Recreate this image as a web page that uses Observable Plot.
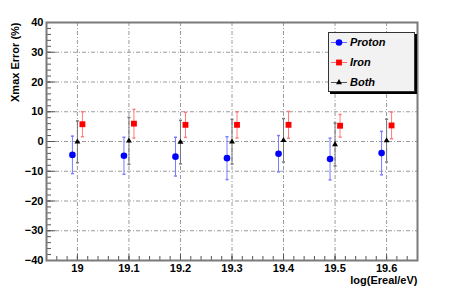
<!DOCTYPE html>
<html><head><meta charset="utf-8">
<script src="https://cdn.jsdelivr.net/npm/d3@7"></script>
<script src="https://cdn.jsdelivr.net/npm/@observablehq/plot@0.6"></script>
<style>
body{margin:0;background:#fff;}
#chart{position:relative;width:463px;height:299px;background:#fff;}
#legend{position:absolute;left:328px;top:32px;width:85px;height:58px;background:#f2f2f2;border:1px solid #333;box-shadow:2px 2px 0 #000;font-family:"Liberation Sans",Arial,sans-serif;}
#legend svg{position:absolute;left:0;top:0;}
</style></head><body><div id="chart"><div id="legend"></div></div>
<script>
const energies = [19.0, 19.1, 19.2, 19.3, 19.4, 19.5, 19.6];
const protonMean = [-4.5, -4.8, -5.1, -5.6, -4.1, -5.9, -3.9];
const protonErr  = [6.3, 6.2, 6.5, 7.2, 6.1, 7.0, 7.3];
const ironMean   = [5.8, 6.0, 5.6, 5.6, 5.6, 5.3, 5.4];
const ironErr    = [4.2, 4.8, 4.2, 4.4, 4.5, 3.8, 4.5];
const bothMean   = [-0.1, 0.2, -0.2, -0.1, 0.4, -1.0, 0.3];
const bothErr    = [7.0, 7.9, 7.3, 7.5, 7.3, 7.2, 7.2];
const xTicks = [19.0, 19.1, 19.2, 19.3, 19.4, 19.5, 19.6];
const yTicks = [-40, -30, -20, -10, 0, 10, 20, 30, 40];
const xMinor = d3.range(947, 984).map(i => i / 50);
const yMinor = d3.range(-20, 21).map(i => i * 2);
const seriesNames = ["Proton", "Iron", "Both"];

const W = 463, H = 299, mL = 46, mR = 46, mT = 22, mB = 39;
const pW = W - mL - mR, pH = H - mT - mB;

const rows = (mean, err) => energies.map((e, i) => ({e, m: mean[i], lo: mean[i] - err[i], hi: mean[i] + err[i]}));
const proton = rows(protonMean, protonErr);
const iron = rows(ironMean, ironErr);
const both = rows(bothMean, bothErr);

const cap = {draw(ctx) { ctx.moveTo(-1.5, 0); ctx.lineTo(1.5, 0); }};

function series(data, dx, color, barColor, symbol, r) {
  return [
    Plot.ruleX(data, {x: "e", y1: "lo", y2: "hi", dx, stroke: barColor, strokeWidth: 1}),
    Plot.dot(data, {x: "e", y: "lo", dx, symbol: cap, stroke: barColor, fill: "none"}),
    Plot.dot(data, {x: "e", y: "hi", dx, symbol: cap, stroke: barColor, fill: "none"}),
    Plot.dot(data, {x: "e", y: "m", dx, symbol, r, fill: color, stroke: "none"})
  ];
}

const gridStyle = {stroke: "#9a9a9a", strokeOpacity: 1, strokeWidth: 1, strokeDasharray: "4,2,1,2"};

const plot = Plot.plot({
  width: W, height: H,
  marginLeft: mL, marginRight: mR, marginTop: mT, marginBottom: mB,
  style: {fontFamily: "Liberation Sans, Arial, sans-serif", fontSize: "11px", background: "white", color: "black"},
  x: {domain: [18.94, 19.66]},
  y: {domain: [-40, 40]},
  marks: [
    Plot.gridX(xTicks, gridStyle),
    Plot.gridY(yTicks, gridStyle),
    Plot.tickX(xMinor, {x: d => d, insetTop: pH - 4, stroke: "#555"}),
    Plot.tickX(xTicks, {x: d => d, insetTop: pH - 6, stroke: "#555"}),
    Plot.tickY(yMinor, {y: d => d, insetRight: pW - 5, stroke: "#555"}),
    Plot.tickY(yTicks, {y: d => d, insetRight: pW - 9, stroke: "#555"}),
    Plot.axisX(xTicks, {tickSize: 0, tickPadding: 4, tickFormat: d3.format("~g"), fontWeight: "bold", label: null}),
    Plot.axisY(yTicks, {tickSize: 0, tickPadding: 3, tickFormat: d3.format("~g"), fontWeight: "bold", label: null}),
    ...series(proton, -5, "#0000ff", "#7a7aff", "circle", 3.3),
    ...series(iron, 5, "#ff0000", "#ff7a7a", "square", 3.3),
    ...series(both, 0, "#000000", "#777777", "triangle", 2.2),
    Plot.frame({stroke: "#7a7a7a", strokeWidth: 2}),
    Plot.text(["Xmax Error (%)"], {text: d => d, frameAnchor: "top-left", dx: -31, rotate: -90, textAnchor: "end", lineAnchor: "middle", fontWeight: "bold", fontSize: 11}),
    Plot.text(["log(Ereal/eV)"], {text: d => d, frameAnchor: "bottom-right", dy: 20, textAnchor: "end", lineAnchor: "middle", fontWeight: "bold", fontSize: 11})
  ]
});
document.getElementById("chart").prepend(plot);

// legend
const legendColors = ["#0000ff", "#ff0000", "#000000"];
const legendLine = ["#6a6aff", "#ff6a6a", "#555"];
const legendSymbols = [d3.symbolCircle, d3.symbolSquare, d3.symbolTriangle];
const legendSizes = [34, 34, 15];
const lsvg = d3.select("#legend").append("svg").attr("width", 85).attr("height", 58);
seriesNames.forEach((name, i) => {
  const y = 9.5 + i * 20;
  lsvg.append("line").attr("x1", 2).attr("x2", 18).attr("y1", y).attr("y2", y).attr("stroke", legendLine[i]);
  lsvg.append("path").attr("d", d3.symbol(legendSymbols[i], legendSizes[i])()).attr("transform", `translate(10,${y})`).attr("fill", legendColors[i]);
  lsvg.append("text").attr("x", 21).attr("y", y).attr("dy", "0.36em").attr("font-size", 11).attr("font-weight", "bold").attr("font-style", "italic").attr("font-family", "Liberation Sans, Arial, sans-serif").text(name);
});
</script></body></html>
